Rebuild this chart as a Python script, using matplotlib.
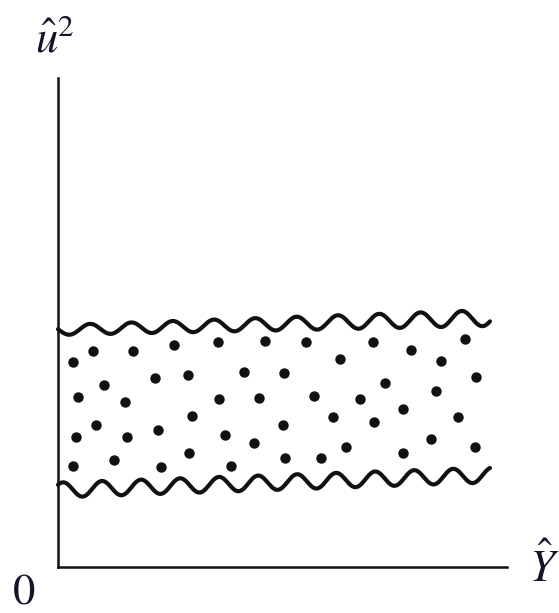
import numpy as np
import matplotlib
matplotlib.use("Agg")
import matplotlib.pyplot as plt

plt.rcParams["mathtext.fontset"] = "stix"
plt.rcParams["font.family"] = ["STIXGeneral", "DejaVu Serif"]

# Scatter of squared residuals against fitted values (no pattern: homoscedastic band)
y_hat = [3.27, 7.86, 16.64, 25.84, 35.70, 46.10, 10.24, 21.54, 29.02, 41.43,
         4.39, 14.92, 35.86, 44.83, 29.84, 8.46, 3.94, 15.43, 22.27, 37.19,
         43.59, 29.11, 3.41, 12.47, 22.87, 38.46, 55.17, 70.09, 78.55, 90.71,
         62.87, 85.30, 50.27, 72.76, 93.16, 84.19, 57.02, 67.19, 76.77, 61.31,
         70.38, 89.15, 50.11, 83.07, 64.21, 92.81, 50.56, 58.51, 76.77]
u_sq = [41.98, 44.23, 44.17, 45.40, 45.95, 46.28, 37.22, 38.59, 39.26, 39.88,
        34.76, 33.74, 34.42, 34.50, 30.88, 29.04, 26.58, 26.58, 27.95, 27.06,
        25.36, 23.31, 20.72, 21.82, 20.51, 20.65, 46.07, 46.07, 44.38, 46.69,
        42.54, 42.13, 39.61, 37.63, 38.85, 35.93, 34.97, 34.36, 32.37, 30.74,
        29.65, 30.67, 29.10, 26.24, 24.54, 24.54, 22.23, 22.23, 23.25]

# Band limits (level at the left and right end of the band)
band_x = [0.0, 96.2]
upper_level = [48.47, 50.92]
lower_level = [15.75, 18.81]

W, H = 559, 613
fig = plt.figure(figsize=(W / 100, H / 100), dpi=100)
ax = fig.add_axes([58 / W, 46 / H, 449 / W, 489 / H])
ax.set_xlim(0, 100)
ax.set_ylim(0, 100)
for side in ("top", "right"):
    ax.spines[side].set_visible(False)
for side in ("left", "bottom"):
    ax.spines[side].set_linewidth(1.8)
    ax.spines[side].set_color("#111111")
ax.set_xticks([])
ax.set_yticks([])


def wavy(level, amp, period, peak_at):
    x = np.linspace(band_x[0], band_x[1], 600)
    c = np.interp(x, band_x, level)
    a = np.interp(x, band_x, amp)
    return x, c + a * np.cos(2 * np.pi * (x - peak_at) / period)


ux, uy = wavy(upper_level, [1.02, 1.64], 9.2, 7.13)
lx, ly = wavy(lower_level, [1.53, 1.53], 8.69, 9.8)
ax.plot(ux, uy, color="#111111", lw=3.0, solid_capstyle="round", clip_on=False)
ax.plot(lx, ly, color="#111111", lw=3.0, solid_capstyle="round", clip_on=False)

ax.plot(y_hat, u_sq, "o", color="#111111", ms=7.5, mec="none", clip_on=False)

txt = dict(color="#141428", fontsize=32, clip_on=False)
ax.text(-0.7, 107.8, r"$\hat{u}^2$", ha="center", va="center", **txt)
ax.text(108.2, 0, r"$\hat{Y}$", ha="center", va="center", **txt)
ax.text(-7.6, -5.5, "0", ha="center", va="center", **txt)

fig.savefig("out.png", dpi=100)
